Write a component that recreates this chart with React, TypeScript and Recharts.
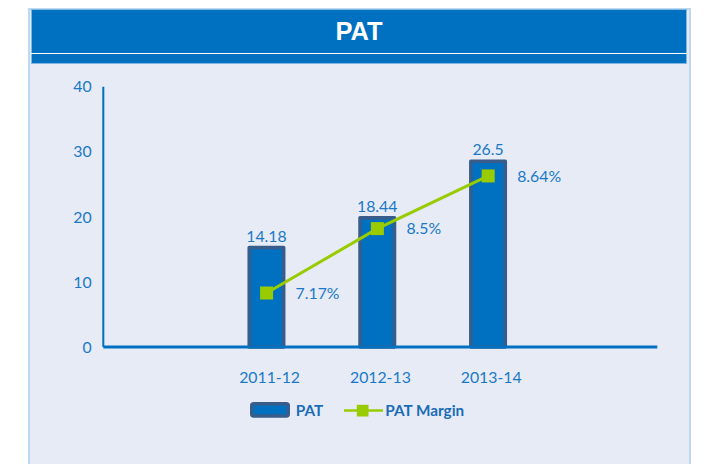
import React from "react";
import { ComposedChart, Bar, Line, XAxis, YAxis, LabelList } from "recharts";

const title = "PAT";
const categories = ["", "2011-12", "2012-13", "2013-14", " "];
const patValues: (number | null)[] = [null, 14.18, 18.44, 26.5, null];
// PAT Margin point heights
const marginPositions: (number | null)[] = [null, 8.3, 18.2, 26.3, null];
const marginLabels = ["", "7.17%", "8.5%", "8.64%", ""];
const yTicks = [0, 10, 20, 30, 40];
const seriesNames = ["PAT", "PAT Margin"];

const data = categories.map((c, i) => ({
  cat: c,
  pat: patValues[i],
  marginPos: marginPositions[i],
  marginLabel: marginLabels[i],
}));

const BLUE = "#0070C0";
const OUTLINE = "#385D8A";
const GREEN = "#99CC00";
const TEXT = "#1A78C6";
const LEGEND_TEXT = "#1A6CB8";
const FONT = "Lato, 'Open Sans', sans-serif";

const SquareDot = (props: any) => {
  const { cx, cy, payload } = props;
  if (cx == null || cy == null || payload?.marginPos == null) return <g />;
  return <rect x={cx - 6.5} y={cy - 6.5} width={13} height={13} fill={GREEN} />;
};

const MarginLabel = (props: any) => {
  const { x, y, value } = props;
  if (!value || x == null || y == null) return <g />;
  return (
    <text x={x + 29} y={y} dy="0.36em" fill={TEXT} fontSize={15.8} fontFamily={FONT} textAnchor="start">
      {value}
    </text>
  );
};

export default function App() {
  return (
    <div style={{ position: "absolute", left: 0, top: 0, width: 706, height: 464, background: "#ffffff", overflow: "hidden" }}>
      {/* panel */}
      <div style={{ position: "absolute", left: 28, top: 8, width: 663, height: 470, boxSizing: "border-box", border: "2px solid #BCD9F2", borderBottom: "none", background: "#E6EBF6" }} />
      {/* header */}
      <div style={{ position: "absolute", left: 31, top: 9, width: 656, height: 45, boxSizing: "border-box", border: "1px solid #7FB6E3", borderBottom: "none", background: BLUE }} />
      <div style={{ position: "absolute", left: 31, top: 53.3, width: 656, height: 1, background: "#ffffff" }} />
      <div style={{ position: "absolute", left: 31, top: 54.3, width: 656, height: 9.5, boxSizing: "border-box", border: "1px solid #7FB6E3", borderTop: "none", background: BLUE }} />
      <div style={{ position: "absolute", left: 32, top: 9, width: 654, height: 44, display: "flex", alignItems: "center", justifyContent: "center", color: "#ffffff", fontFamily: "'Liberation Sans Narrow', 'Arial Narrow', sans-serif", fontWeight: "bold", fontSize: 25.5, paddingTop: 1, boxSizing: "border-box" }}>
        {title}
      </div>

      <div style={{ position: "absolute", left: 0, top: 0 }}>
        <ComposedChart width={706} height={464} data={data} margin={{ top: 86.8, right: 48.7, bottom: 87, left: 0 }}>
          <XAxis
            dataKey="cat"
            height={30}
            axisLine={{ stroke: BLUE, strokeWidth: 3 }}
            tickLine={false}
            tickMargin={18.6}
            padding={{ left: -2.9, right: 2.9 }}
            tick={{ fill: TEXT, fontSize: 15.8, fontFamily: FONT, dx: 3 }}
            interval={0}
          />
          <YAxis
            yAxisId="left"
            width={103.3}
            domain={[0, 40]}
            ticks={yTicks}
            axisLine={{ stroke: BLUE, strokeWidth: 2 }}
            tickLine={false}
            tickMargin={5.6}
            tick={{ fill: TEXT, fontSize: 15.8, fontFamily: FONT }}
          />
          <YAxis yAxisId="bars" orientation="right" width={0} hide domain={[0, 37.1]} />
          <Bar
            yAxisId="bars"
            dataKey="pat"
            name={seriesNames[0]}
            barSize={34.5}
            fill={BLUE}
            stroke={OUTLINE}
            strokeWidth={3.5}
            strokeLinejoin="round"
            isAnimationActive={false}
          >
            <LabelList dataKey="pat" position="top" offset={6} fill={TEXT} fontSize={15.8} fontFamily={FONT} />
          </Bar>
          <Line
            yAxisId="left"
            dataKey="marginPos"
            name={seriesNames[1]}
            stroke={GREEN}
            strokeWidth={3}
            dot={<SquareDot />}
            activeDot={false}
            isAnimationActive={false}
          >
            <LabelList dataKey="marginLabel" content={<MarginLabel />} />
          </Line>
        </ComposedChart>
      </div>

      {/* legend */}
      <svg style={{ position: "absolute", left: 250, top: 402 }} width={41} height={16}>
        <rect x={1.75} y={1.75} width={36.5} height={12.2} rx={2} fill={BLUE} stroke={OUTLINE} strokeWidth={3.5} />
      </svg>
      <div style={{ position: "absolute", left: 295.7, top: 400, height: 20, lineHeight: "20px", color: LEGEND_TEXT, fontFamily: FONT, fontWeight: "bold", fontSize: 15.3 }}>
        {seriesNames[0]}
      </div>
      <svg style={{ position: "absolute", left: 344, top: 404 }} width={39} height={14}>
        <line x1={0} y1={6.5} x2={39} y2={6.5} stroke={GREEN} strokeWidth={2.5} />
        <rect x={12.8} y={0.8} width={11.7} height={11.7} fill={GREEN} />
      </svg>
      <div style={{ position: "absolute", left: 385.3, top: 400, height: 20, lineHeight: "20px", color: LEGEND_TEXT, fontFamily: FONT, fontWeight: "bold", fontSize: 15.3 }}>
        {seriesNames[1]}
      </div>
    </div>
  );
}
